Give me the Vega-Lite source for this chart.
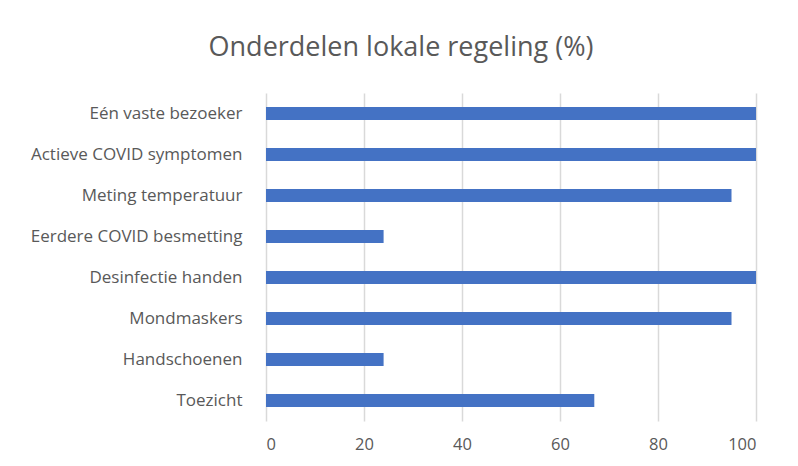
{
  "$schema": "https://vega.github.io/schema/vega-lite/v6.json",
  "width": 490,
  "height": 328,
  "autosize": {"type": "none"},
  "padding": {"left": 266, "top": 93, "right": 42, "bottom": 45},
  "background": "white",
  "title": {
    "text": "Onderdelen lokale regeling (%)",
    "font": "Open Sans",
    "fontSize": 27,
    "fontWeight": "normal",
    "color": "#595959",
    "anchor": "middle",
    "dx": -110,
    "offset": 31
  },
  "data": {
    "values": [
      {"categorie": "Eén vaste bezoeker", "waarde": 100},
      {"categorie": "Actieve COVID symptomen", "waarde": 100},
      {"categorie": "Meting temperatuur", "waarde": 95},
      {"categorie": "Eerdere COVID besmetting", "waarde": 24},
      {"categorie": "Desinfectie handen", "waarde": 100},
      {"categorie": "Mondmaskers", "waarde": 95},
      {"categorie": "Handschoenen", "waarde": 24},
      {"categorie": "Toezicht", "waarde": 67}
    ]
  },
  "mark": {"type": "bar", "color": "#4472C4"},
  "encoding": {
    "y": {
      "field": "categorie",
      "type": "nominal",
      "sort": null,
      "scale": {"paddingInner": 0.68, "paddingOuter": 0.34},
      "axis": {
        "title": null,
        "domain": false,
        "ticks": false,
        "labelPadding": 24,
        "labelFont": "Open Sans",
        "labelFontSize": 17,
        "labelColor": "#595959",
        "labelLimit": 300
      }
    },
    "x": {
      "field": "waarde",
      "type": "quantitative",
      "scale": {"domain": [0, 100], "nice": false},
      "axis": {
        "title": null,
        "values": [0, 20, 40, 60, 80, 100],
        "domain": false,
        "ticks": false,
        "grid": true,
        "gridColor": "#d9d9d9",
        "gridWidth": 1.5,
        "labelPadding": 15,
        "labelFont": "Open Sans",
        "labelFontSize": 16.5,
        "labelColor": "#595959"
      }
    }
  },
  "config": {"view": {"stroke": null}}
}
